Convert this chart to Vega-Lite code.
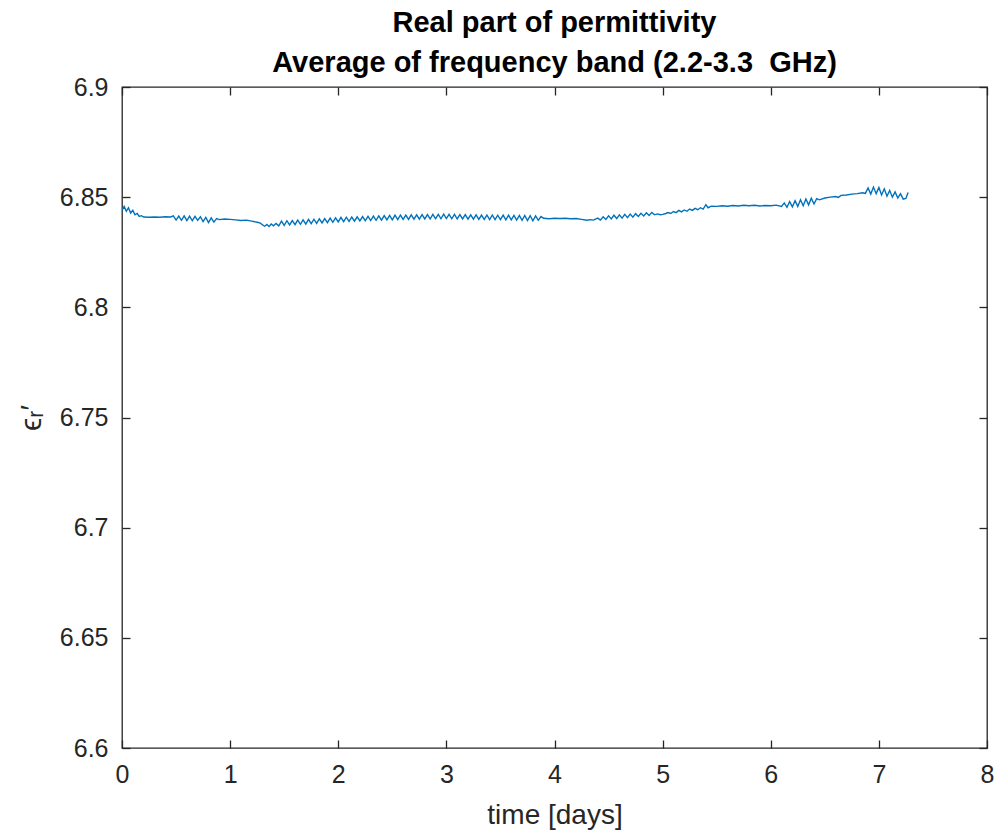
{
  "$schema": "https://vega.github.io/schema/vega-lite/v6.json",
  "width": 865,
  "height": 661,
  "autosize": {"type": "none"},
  "padding": {"left": 122, "top": 87, "right": 9, "bottom": 83},
  "background": "white",
  "config": {
    "font": "Liberation Sans",
    "view": {"stroke": "#262626", "strokeWidth": 1.3},
    "axis": {
      "labelFont": "Liberation Sans",
      "titleFont": "Liberation Sans",
      "labelFontSize": 25,
      "titleFontSize": 28,
      "labelColor": "#262626",
      "titleColor": "#262626",
      "titleFontWeight": "normal",
      "tickColor": "#262626",
      "tickWidth": 1.3,
      "tickSize": -8,
      "labelFlush": false,
      "domain": false,
      "grid": false
    }
  },
  "title": {
    "text": ["Real part of permittivity", "Average of frequency band (2.2-3.3 \u00a0GHz)"],
    "font": "Liberation Sans",
    "fontSize": 29,
    "fontWeight": "bold",
    "color": "#000000",
    "lineHeight": 40,
    "offset": -3,
    "anchor": "middle"
  },
  "data": {
    "values": [
      {"t": 0.00, "e": 6.8440}, {"t": 0.02, "e": 6.8458}, {"t": 0.04, "e": 6.8436}, {"t": 0.06, "e": 6.8452},
      {"t": 0.08, "e": 6.8428}, {"t": 0.10, "e": 6.8440}, {"t": 0.12, "e": 6.8420}, {"t": 0.14, "e": 6.8426},
      {"t": 0.16, "e": 6.8413}, {"t": 0.18, "e": 6.8416}, {"t": 0.20, "e": 6.8410}, {"t": 0.25, "e": 6.8409},
      {"t": 0.30, "e": 6.8410}, {"t": 0.35, "e": 6.8409}, {"t": 0.40, "e": 6.8411}, {"t": 0.45, "e": 6.8410},
      {"t": 0.475, "e": 6.8415}, {"t": 0.50, "e": 6.8396}, {"t": 0.525, "e": 6.8414}, {"t": 0.55, "e": 6.8395},
      {"t": 0.575, "e": 6.8415}, {"t": 0.60, "e": 6.8394}, {"t": 0.625, "e": 6.8414}, {"t": 0.65, "e": 6.8393},
      {"t": 0.675, "e": 6.8413}, {"t": 0.70, "e": 6.8395}, {"t": 0.725, "e": 6.8411}, {"t": 0.75, "e": 6.8389},
      {"t": 0.775, "e": 6.8408}, {"t": 0.80, "e": 6.8385}, {"t": 0.825, "e": 6.8406}, {"t": 0.85, "e": 6.8387},
      {"t": 0.875, "e": 6.8403}, {"t": 0.90, "e": 6.8398}, {"t": 0.95, "e": 6.8401}, {"t": 1.00, "e": 6.8399},
      {"t": 1.05, "e": 6.8397}, {"t": 1.10, "e": 6.8394}, {"t": 1.15, "e": 6.8396}, {"t": 1.20, "e": 6.8391},
      {"t": 1.25, "e": 6.8386}, {"t": 1.28, "e": 6.8382}, {"t": 1.30, "e": 6.8374}, {"t": 1.32, "e": 6.8368},
      {"t": 1.34, "e": 6.8376}, {"t": 1.36, "e": 6.8367}, {"t": 1.38, "e": 6.8378}, {"t": 1.40, "e": 6.8370},
      {"t": 1.425, "e": 6.8381},
      {"t": 1.45, "e": 6.8370}, {"t": 1.475, "e": 6.8391}, {"t": 1.50, "e": 6.8372}, {"t": 1.525, "e": 6.8393},
      {"t": 1.55, "e": 6.8374}, {"t": 1.575, "e": 6.8394}, {"t": 1.60, "e": 6.8375}, {"t": 1.625, "e": 6.8396},
      {"t": 1.65, "e": 6.8377}, {"t": 1.675, "e": 6.8397}, {"t": 1.70, "e": 6.8378}, {"t": 1.725, "e": 6.8399},
      {"t": 1.75, "e": 6.8380}, {"t": 1.775, "e": 6.8400}, {"t": 1.80, "e": 6.8381}, {"t": 1.825, "e": 6.8402},
      {"t": 1.85, "e": 6.8383}, {"t": 1.875, "e": 6.8403}, {"t": 1.90, "e": 6.8384}, {"t": 1.925, "e": 6.8405},
      {"t": 1.95, "e": 6.8386}, {"t": 1.975, "e": 6.8406}, {"t": 2.00, "e": 6.8388}, {"t": 2.025, "e": 6.8408},
      {"t": 2.05, "e": 6.8389}, {"t": 2.075, "e": 6.8409}, {"t": 2.10, "e": 6.8390}, {"t": 2.125, "e": 6.8410},
      {"t": 2.15, "e": 6.8391}, {"t": 2.175, "e": 6.8411}, {"t": 2.20, "e": 6.8392}, {"t": 2.225, "e": 6.8412},
      {"t": 2.25, "e": 6.8393}, {"t": 2.275, "e": 6.8413}, {"t": 2.30, "e": 6.8394}, {"t": 2.325, "e": 6.8414},
      {"t": 2.35, "e": 6.8395}, {"t": 2.375, "e": 6.8415}, {"t": 2.40, "e": 6.8396}, {"t": 2.425, "e": 6.8416},
      {"t": 2.45, "e": 6.8397}, {"t": 2.475, "e": 6.8417}, {"t": 2.50, "e": 6.8397}, {"t": 2.525, "e": 6.8418},
      {"t": 2.55, "e": 6.8398}, {"t": 2.575, "e": 6.8419}, {"t": 2.60, "e": 6.8399}, {"t": 2.625, "e": 6.8419},
      {"t": 2.65, "e": 6.8399}, {"t": 2.675, "e": 6.8420}, {"t": 2.70, "e": 6.8400}, {"t": 2.725, "e": 6.8420},
      {"t": 2.75, "e": 6.8400}, {"t": 2.775, "e": 6.8421}, {"t": 2.80, "e": 6.8401}, {"t": 2.825, "e": 6.8421},
      {"t": 2.85, "e": 6.8401}, {"t": 2.875, "e": 6.8422}, {"t": 2.90, "e": 6.8402}, {"t": 2.925, "e": 6.8422},
      {"t": 2.95, "e": 6.8402}, {"t": 2.975, "e": 6.8423}, {"t": 3.00, "e": 6.8403}, {"t": 3.025, "e": 6.8422},
      {"t": 3.05, "e": 6.8402}, {"t": 3.075, "e": 6.8422}, {"t": 3.10, "e": 6.8401}, {"t": 3.125, "e": 6.8421},
      {"t": 3.15, "e": 6.8401}, {"t": 3.175, "e": 6.8421}, {"t": 3.20, "e": 6.8400}, {"t": 3.225, "e": 6.8420},
      {"t": 3.25, "e": 6.8400}, {"t": 3.275, "e": 6.8420}, {"t": 3.30, "e": 6.8399}, {"t": 3.325, "e": 6.8419},
      {"t": 3.35, "e": 6.8399}, {"t": 3.375, "e": 6.8419}, {"t": 3.40, "e": 6.8398}, {"t": 3.425, "e": 6.8419},
      {"t": 3.45, "e": 6.8398}, {"t": 3.475, "e": 6.8418}, {"t": 3.50, "e": 6.8398}, {"t": 3.525, "e": 6.8418},
      {"t": 3.55, "e": 6.8397}, {"t": 3.575, "e": 6.8418}, {"t": 3.60, "e": 6.8397}, {"t": 3.625, "e": 6.8417},
      {"t": 3.65, "e": 6.8396}, {"t": 3.675, "e": 6.8417}, {"t": 3.70, "e": 6.8395}, {"t": 3.725, "e": 6.8417},
      {"t": 3.75, "e": 6.8394}, {"t": 3.775, "e": 6.8416}, {"t": 3.80, "e": 6.8393}, {"t": 3.825, "e": 6.8415},
      {"t": 3.85, "e": 6.8395}, {"t": 3.875, "e": 6.8412}, {"t": 3.90, "e": 6.8404}, {"t": 3.95, "e": 6.8402},
      {"t": 4.00, "e": 6.8404}, {"t": 4.05, "e": 6.8403}, {"t": 4.10, "e": 6.8404}, {"t": 4.15, "e": 6.8402},
      {"t": 4.20, "e": 6.8403}, {"t": 4.25, "e": 6.8399}, {"t": 4.30, "e": 6.8395}, {"t": 4.33, "e": 6.8398},
      {"t": 4.36, "e": 6.8396}, {"t": 4.40, "e": 6.8405}, {"t": 4.425, "e": 6.8396}, {"t": 4.45, "e": 6.8411},
      {"t": 4.475, "e": 6.8399}, {"t": 4.50, "e": 6.8415}, {"t": 4.525, "e": 6.8401}, {"t": 4.55, "e": 6.8418},
      {"t": 4.575, "e": 6.8403}, {"t": 4.60, "e": 6.8420}, {"t": 4.625, "e": 6.8405}, {"t": 4.65, "e": 6.8422},
      {"t": 4.675, "e": 6.8407}, {"t": 4.70, "e": 6.8423}, {"t": 4.725, "e": 6.8409}, {"t": 4.75, "e": 6.8425},
      {"t": 4.775, "e": 6.8412}, {"t": 4.80, "e": 6.8427}, {"t": 4.825, "e": 6.8415}, {"t": 4.85, "e": 6.8429},
      {"t": 4.875, "e": 6.8417}, {"t": 4.90, "e": 6.8431}, {"t": 4.925, "e": 6.8420}, {"t": 4.95, "e": 6.8424},
      {"t": 4.98, "e": 6.8420}, {"t": 5.00, "e": 6.8422}, {"t": 5.03, "e": 6.8426}, {"t": 5.05, "e": 6.8430},
      {"t": 5.075, "e": 6.8426}, {"t": 5.10, "e": 6.8435}, {"t": 5.125, "e": 6.8430}, {"t": 5.15, "e": 6.8440},
      {"t": 5.175, "e": 6.8433}, {"t": 5.20, "e": 6.8442}, {"t": 5.225, "e": 6.8436}, {"t": 5.25, "e": 6.8446},
      {"t": 5.275, "e": 6.8440}, {"t": 5.30, "e": 6.8449}, {"t": 5.325, "e": 6.8443}, {"t": 5.35, "e": 6.8452},
      {"t": 5.375, "e": 6.8446}, {"t": 5.40, "e": 6.8466}, {"t": 5.42, "e": 6.8452}, {"t": 5.45, "e": 6.8459},
      {"t": 5.50, "e": 6.8458}, {"t": 5.55, "e": 6.8461}, {"t": 5.60, "e": 6.8459}, {"t": 5.65, "e": 6.8462},
      {"t": 5.70, "e": 6.8460}, {"t": 5.75, "e": 6.8463}, {"t": 5.80, "e": 6.8461}, {"t": 5.85, "e": 6.8463},
      {"t": 5.90, "e": 6.8460}, {"t": 5.95, "e": 6.8462}, {"t": 6.00, "e": 6.8461}, {"t": 6.05, "e": 6.8464},
      {"t": 6.10, "e": 6.8458}, {"t": 6.125, "e": 6.8474}, {"t": 6.15, "e": 6.8454}, {"t": 6.175, "e": 6.8480},
      {"t": 6.20, "e": 6.8456}, {"t": 6.225, "e": 6.8484}, {"t": 6.25, "e": 6.8458}, {"t": 6.275, "e": 6.8488},
      {"t": 6.30, "e": 6.8461}, {"t": 6.325, "e": 6.8492}, {"t": 6.35, "e": 6.8465}, {"t": 6.375, "e": 6.8495},
      {"t": 6.40, "e": 6.8469}, {"t": 6.425, "e": 6.8493}, {"t": 6.45, "e": 6.8488}, {"t": 6.50, "e": 6.8496},
      {"t": 6.55, "e": 6.8500}, {"t": 6.60, "e": 6.8503}, {"t": 6.625, "e": 6.8499}, {"t": 6.65, "e": 6.8508},
      {"t": 6.70, "e": 6.8510}, {"t": 6.75, "e": 6.8514}, {"t": 6.80, "e": 6.8516}, {"t": 6.85, "e": 6.8520},
      {"t": 6.875, "e": 6.8517}, {"t": 6.90, "e": 6.8542}, {"t": 6.925, "e": 6.8514}, {"t": 6.95, "e": 6.8546},
      {"t": 6.975, "e": 6.8516}, {"t": 7.00, "e": 6.8544}, {"t": 7.025, "e": 6.8510}, {"t": 7.05, "e": 6.8538},
      {"t": 7.075, "e": 6.8504}, {"t": 7.10, "e": 6.8530}, {"t": 7.125, "e": 6.8500}, {"t": 7.15, "e": 6.8524},
      {"t": 7.175, "e": 6.8496}, {"t": 7.20, "e": 6.8516}, {"t": 7.225, "e": 6.8491}, {"t": 7.25, "e": 6.8494},
      {"t": 7.27, "e": 6.8521}
    ]
  },
  "layer": [
    {
      "mark": {"type": "line", "color": "#0072BD", "strokeWidth": 1.4, "clip": true},
      "encoding": {
        "x": {
          "field": "t",
          "type": "quantitative",
          "scale": {"domain": [0, 8], "nice": false, "zero": false},
          "axis": {
            "orient": "bottom",
            "title": "time [days]",
            "values": [0, 1, 2, 3, 4, 5, 6, 7, 8],
            "labelPadding": 22,
            "titlePadding": 14
          }
        },
        "y": {
          "field": "e",
          "type": "quantitative",
          "scale": {"domain": [6.6, 6.9], "nice": false, "zero": false},
          "axis": {
            "orient": "left",
            "title": "ϵᵣ′",
            "titleFontSize": 30,
            "values": [6.6, 6.65, 6.7, 6.75, 6.8, 6.85, 6.9],
            "format": "~g",
            "labelPadding": 22,
            "titlePadding": 13
          }
        }
      }
    },
    {
      "mark": {"type": "line", "opacity": 0},
      "encoding": {
        "x": {
          "field": "t",
          "type": "quantitative",
          "axis": {"orient": "top", "title": null, "labels": false, "values": [0, 1, 2, 3, 4, 5, 6, 7, 8]}
        },
        "y": {
          "field": "e",
          "type": "quantitative",
          "axis": {"orient": "right", "title": null, "labels": false, "values": [6.6, 6.65, 6.7, 6.75, 6.8, 6.85, 6.9]}
        }
      }
    }
  ],
  "resolve": {"axis": {"x": "independent", "y": "independent"}}
}
